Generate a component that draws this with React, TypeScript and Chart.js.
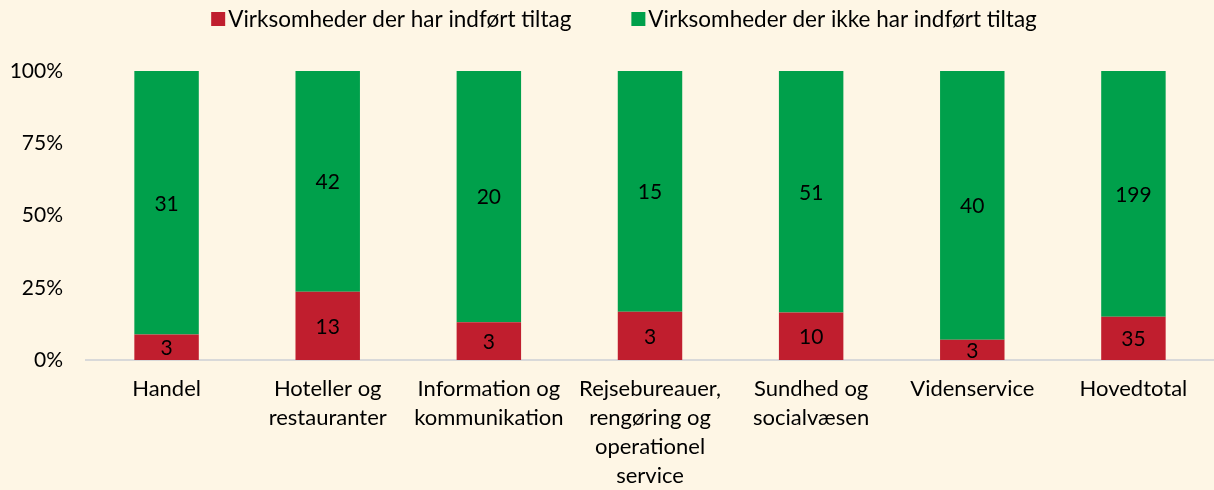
import React, { useEffect, useRef } from "react";
import { Chart, registerables } from "chart.js";

Chart.register(...registerables);

const categories: string[][] = [
  ["Handel"],
  ["Hoteller og", "restauranter"],
  ["Information og", "kommunikation"],
  ["Rejsebureauer,", "rengøring og", "operationel", "service"],
  ["Sundhed og", "socialvæsen"],
  ["Videnservice"],
  ["Hovedtotal"],
];
const withMeasures = [3, 13, 3, 3, 10, 3, 35];
const withoutMeasures = [31, 42, 20, 15, 51, 40, 199];
const seriesNames = [
  "Virksomheder der har indført tiltag",
  "Virksomheder der ikke har indført tiltag",
];
const yTicks = [0, 25, 50, 75, 100];

const RED = "#C01E2E";
const GREEN = "#00A04B";
const BG = "#FEF6E5";
const FONT = "Lato, 'Open Sans', sans-serif";
const FS = 22;

const totals = withMeasures.map((v, i) => v + withoutMeasures[i]);
const pctWith = withMeasures.map((v, i) => (v / totals[i]) * 100);
const pctWithout = withoutMeasures.map((v, i) => (v / totals[i]) * 100);
const counts = [withMeasures, withoutMeasures];

const labelPlugin = {
  id: "countLabels",
  afterDatasetsDraw(chart: any) {
    const ctx = chart.ctx;
    ctx.save();
    ctx.fillStyle = "#000";
    ctx.font = `21px ${FONT}`;
    ctx.textAlign = "center";
    ctx.textBaseline = "middle";
    chart.data.datasets.forEach((_: any, di: number) => {
      const meta = chart.getDatasetMeta(di);
      meta.data.forEach((bar: any, i: number) => {
        const y = (bar.y + bar.base) / 2;
        ctx.fillText(String(counts[di][i]), bar.x, y + 1);
      });
    });
    ctx.restore();
  },
};

const legendPlugin = {
  id: "customLegend",
  afterDraw(chart: any) {
    const ctx = chart.ctx;
    ctx.save();
    ctx.font = `22.5px ${FONT}`;
    ctx.textBaseline = "middle";
    ctx.textAlign = "left";
    const box = 14;
    const gapBoxText = 3;
    const gapItems = 60;
    const ds = chart.data.datasets;
    const widths = ds.map((d: any) => box + gapBoxText + ctx.measureText(d.label).width);
    const total = widths.reduce((a: number, b: number) => a + b, 0) + gapItems * (ds.length - 1);
    let x = (chart.width - total) / 2 + 17;
    const cy = 19;
    ds.forEach((d: any, i: number) => {
      ctx.fillStyle = d.backgroundColor;
      ctx.fillRect(x, cy - box / 2, box, box);
      ctx.fillStyle = "#000";
      ctx.fillText(d.label, x + box + gapBoxText, cy + 1);
      x += widths[i] + gapItems;
    });
    ctx.restore();
  },
};

const bgPlugin = {
  id: "bg",
  beforeDraw(chart: any) {
    const ctx = chart.ctx;
    ctx.save();
    ctx.fillStyle = BG;
    ctx.fillRect(0, 0, chart.width, chart.height);
    ctx.restore();
  },
};

export default function App() {
  const ref = useRef<HTMLCanvasElement>(null);
  useEffect(() => {
    document.body.style.margin = "0";
    document.body.style.background = BG;
    const chart = new Chart(ref.current!, {
      type: "bar",
      data: {
        labels: categories,
        datasets: [
          {
            label: seriesNames[0],
            data: pctWith,
            backgroundColor: RED,
            barPercentage: 0.4,
            categoryPercentage: 1,
          },
          {
            label: seriesNames[1],
            data: pctWithout,
            backgroundColor: GREEN,
            barPercentage: 0.4,
            categoryPercentage: 1,
          },
        ],
      },
      options: {
        responsive: false,
        animation: false,
        maintainAspectRatio: false,
        layout: { padding: { left: 0, right: 0, top: 71, bottom: 0 } },
        plugins: {
          legend: { display: false },
          tooltip: { enabled: false },
        },
        scales: {
          x: {
            stacked: true,
            afterFit: (s: any) => {
              s.height = 130;
            },
            grid: { display: false, drawTicks: false },
            border: { display: true, color: "#D9D9D9", width: 2 },
            ticks: {
              font: { family: FONT, size: FS, lineHeight: 1.32 },
              color: "#000",
              padding: 14,
              maxRotation: 0,
              autoSkip: false,
            },
          },
          y: {
            stacked: true,
            min: 0,
            max: 100,
            afterFit: (s: any) => {
              s.width = 86;
            },
            afterBuildTicks: (s: any) => {
              s.ticks = yTicks.map((v) => ({ value: v }));
            },
            grid: { display: false, drawTicks: false },
            border: { display: false },
            ticks: {
              font: { family: FONT, size: 21 },
              color: "#000",
              padding: 23,
              callback: (v: any) => `${v}%`,
            },
          },
        },
      },
      plugins: [bgPlugin, labelPlugin, legendPlugin],
    });
    return () => chart.destroy();
  }, []);
  return (
    <div style={{ width: 1214, height: 490, background: BG }}>
      <canvas ref={ref} width={1214} height={490} />
    </div>
  );
}
